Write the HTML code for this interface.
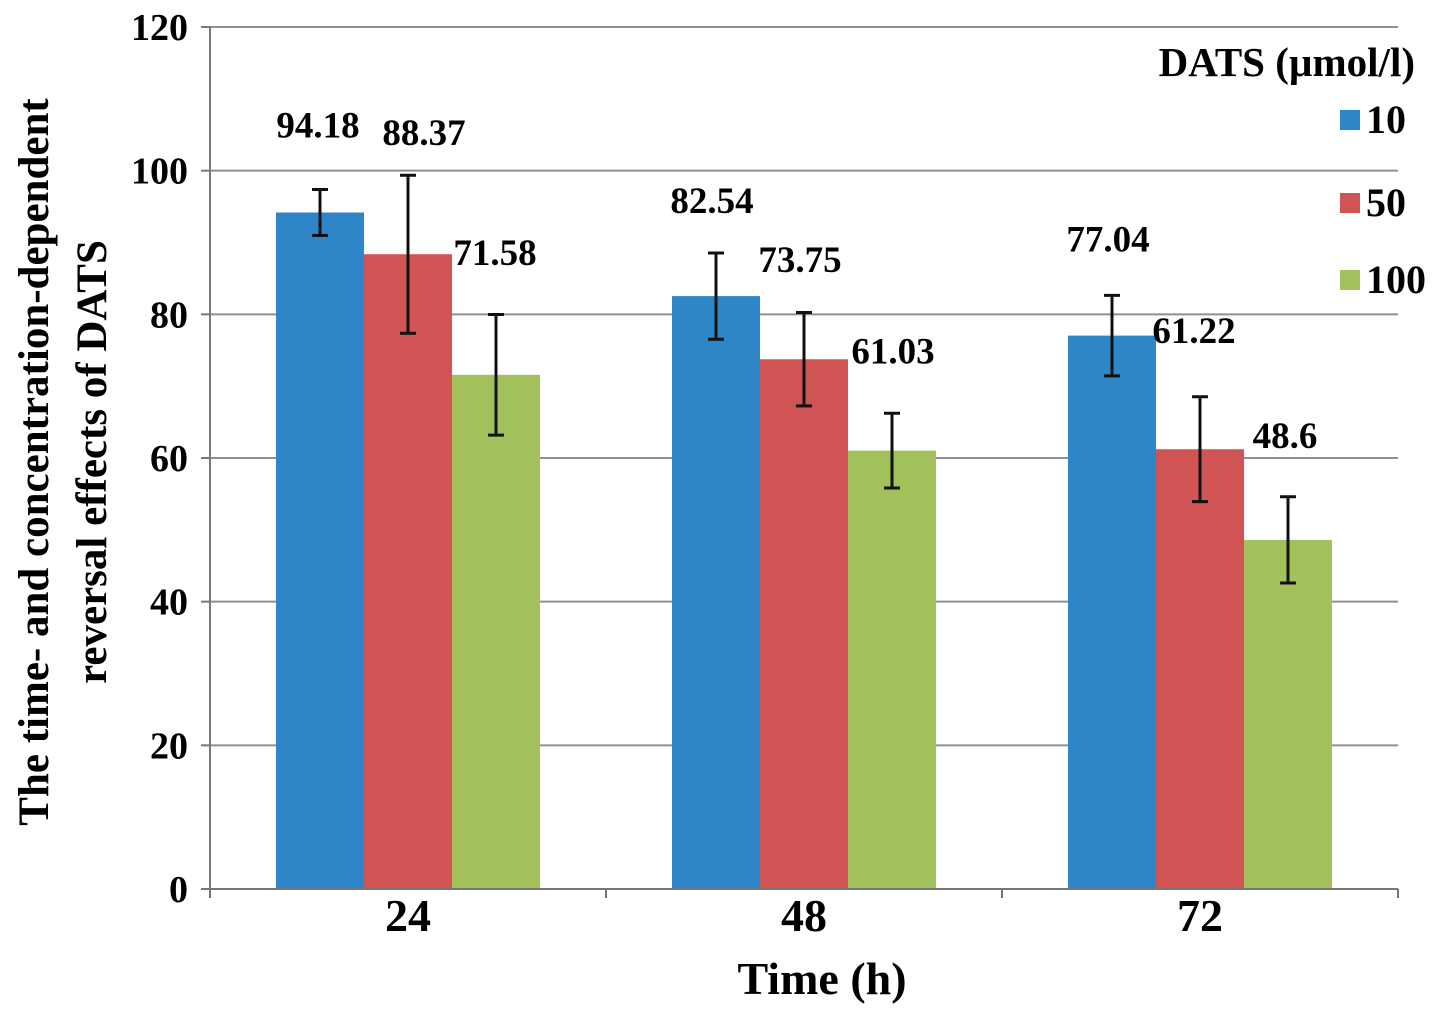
<!DOCTYPE html>
<html><head><meta charset="utf-8"><style>
body{margin:0;background:#fff}
svg text{font-family:"Liberation Serif",serif;font-weight:bold;fill:#000}
</style></head><body>
<svg width="1441" height="1015">
<g id="grid"></g><g id="bars"></g><g id="axes"></g><g id="labels"></g>
<text x="822" y="994" font-size="46" text-anchor="middle">Time (h)</text>
<g transform="translate(48,462) rotate(-90)">
<text x="0" y="0" font-size="43" text-anchor="middle">The time- and concentration-dependent</text>
<text x="0" y="58" font-size="43" text-anchor="middle">reversal effects of DATS</text>
</g>
<g>
<text x="1415" y="76" font-size="41" text-anchor="end">DATS (µmol/l)</text>
<rect x="1340" y="110" width="20" height="20" fill="#2e86c8"/>
<text x="1366" y="133" font-size="40">10</text>
<rect x="1340" y="193" width="20" height="20" fill="#d05454"/>
<text x="1366" y="216" font-size="40">50</text>
<rect x="1340" y="270" width="20" height="20" fill="#a3c15a"/>
<text x="1366" y="293" font-size="40">100</text>
</g>
</svg>
<script>
const categories=["24","48","72"];
const seriesNames=["10","50","100"];
const values10=[94.18,82.54,77.04];
const values50=[88.37,73.75,61.22];
const values100=[71.58,61.03,48.6];
const err10=[3.2,6,5.6];
const err50=[11,6.5,7.3];
const err100=[8.4,5.2,6];
const yTicks=[0,20,40,60,80,100,120];
const series=[values10,values50,values100];
const errs=[err10,err50,err100];
const colors=["#2e86c8","#d05454","#a3c15a"];
// label offsets (style) indexed [category][series]: [dx, dy from bar top]
const lblOff=[[[-2,-75],[16,-109],[-1,-110]],[[-4,-83],[-4,-87],[1,-87]],[[-4,-84],[-6,-106],[-3,-92]]];
const NS="http://www.w3.org/2000/svg";
const x0=210,x1=1398,yBase=889,yTop=27;
const y=v=>yBase-(v/120)*(yBase-yTop);
const groupW=(x1-x0)/categories.length, barW=88;
const cx=i=>x0+groupW*(i+0.5);
function mk(p,t,a){const e=document.createElementNS(NS,t);for(const k in a)e.setAttribute(k,a[k]);p.appendChild(e);return e;}
const G=document.getElementById('grid'),B=document.getElementById('bars'),A=document.getElementById('axes'),L=document.getElementById('labels');
yTicks.forEach(t=>{
 if(t>0){const l=mk(G,'line',{x1:x0,x2:x1,y1:y(t),y2:y(t),stroke:'#8a9098','stroke-width':2});
 
 }
 const tk=mk(A,'line',{x1:x0-9,x2:x0,y1:y(t),y2:y(t),stroke:'#777','stroke-width':2});
 
 
 const tx=mk(A,'text',{x:188,y:y(t)+13,'font-size':38,'text-anchor':'end'});tx.textContent=t;
 
 
});
const ax=mk(A,'line',{x1:x0,x2:x0,y1:yTop,y2:yBase,stroke:'#777','stroke-width':2});


const xa=mk(A,'line',{x1:x0,x2:x1,y1:yBase,y2:yBase,stroke:'#777','stroke-width':2});


for(let i=0;i<=categories.length;i++){const t=mk(A,'line',{x1:x0+groupW*i,x2:x0+groupW*i,y1:yBase,y2:yBase+9,stroke:'#777','stroke-width':2});
 
 }
categories.forEach((c,i)=>{
 const tx=mk(A,'text',{x:cx(i),y:931,'font-size':46,'text-anchor':'middle'});tx.textContent=c;
 
 
 series.forEach((s,j)=>{
  const bx=cx(i)-1.5*barW+j*barW, v=s[i];
  const r=mk(B,'rect',{x:bx,y:y(v),width:barW,height:yBase-y(v),fill:colors[j]});
  
  
  const m=bx+barW/2,e=errs[j][i];
  const eb=mk(B,'path',{d:`M${m},${y(v+e)}V${y(v-e)}M${m-8},${y(v+e)}H${m+8}M${m-8},${y(v-e)}H${m+8}`,stroke:'#111','stroke-width':3,fill:'none'});
  
  
  const o=lblOff[i][j];
  const lt=mk(L,'text',{x:m+o[0],y:y(v)+o[1],'font-size':37,'text-anchor':'middle'});lt.textContent=v;
  
  
 });
});
</script>
</body></html>
